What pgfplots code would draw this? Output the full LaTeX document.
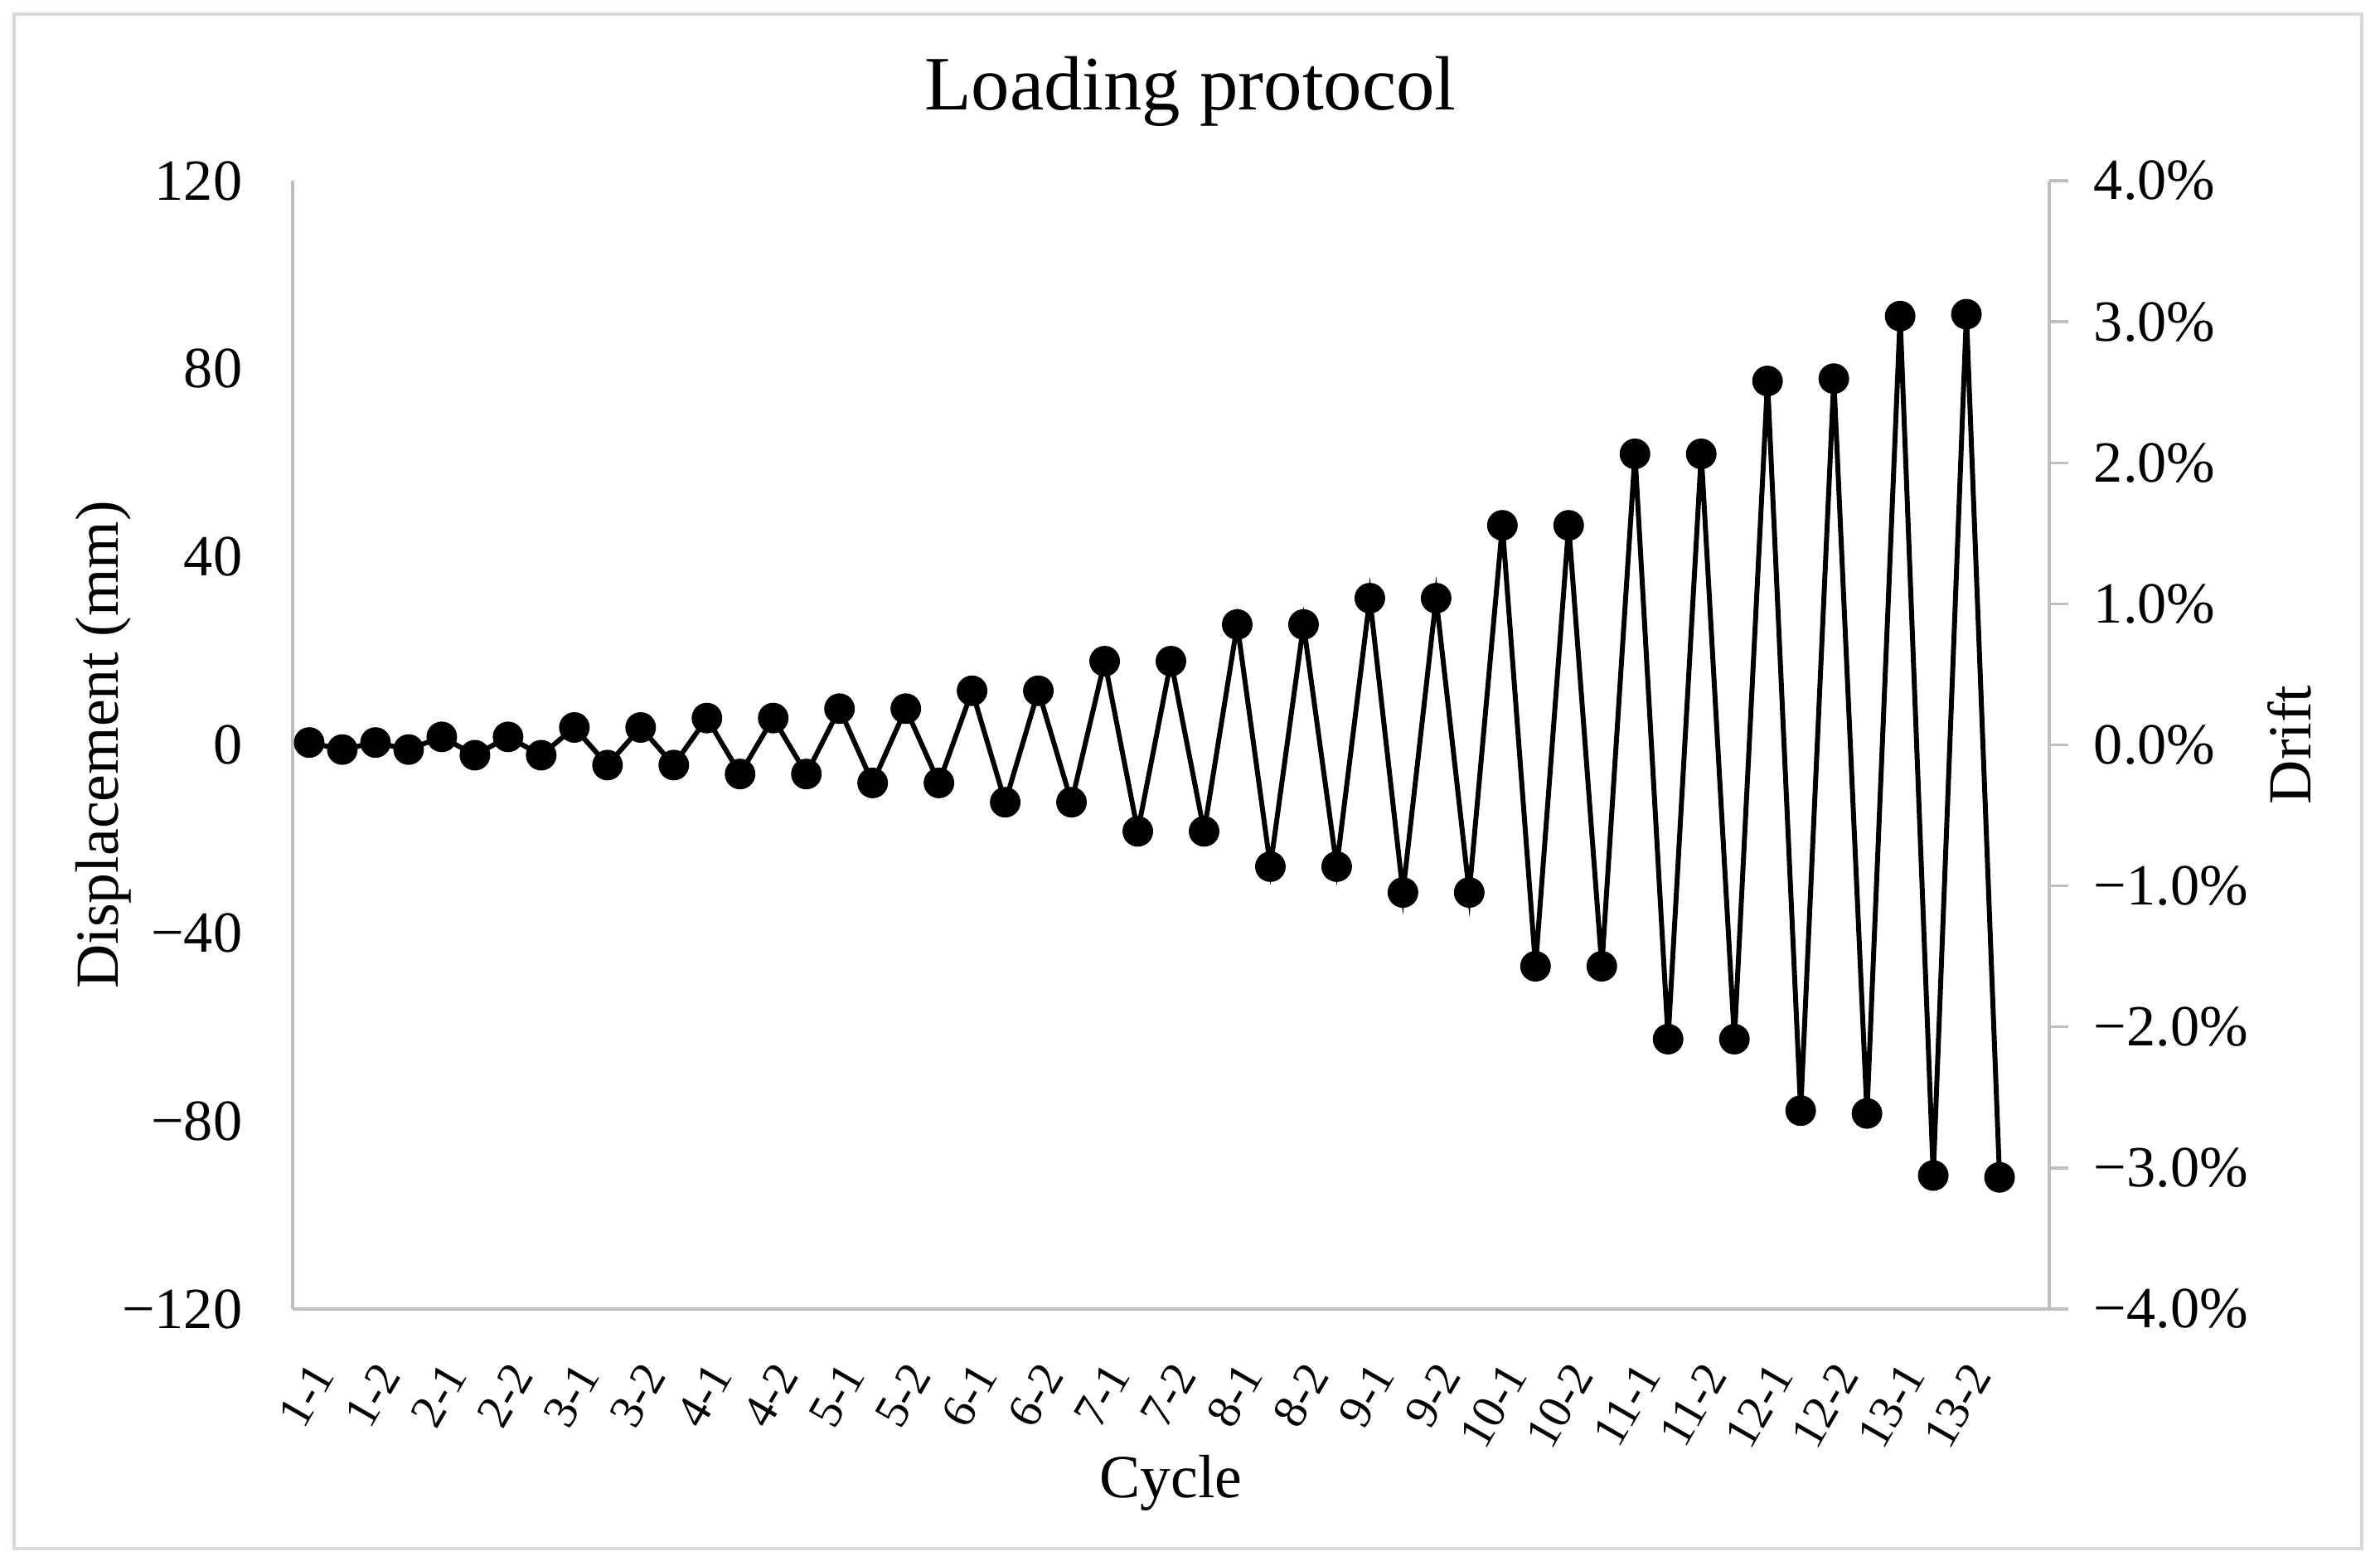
\documentclass[border=0pt]{standalone}
\usepackage{fontspec}
\setmainfont{Liberation Serif}
\usepackage{pgfplots}
\pgfplotsset{compat=1.18}
\definecolor{axgray}{HTML}{BFBFBF}
\definecolor{framegray}{HTML}{D9D9D9}

\begin{document}
\begin{tikzpicture}
\path[use as bounding box] (-1.765,-1.545) rectangle (12.59,7.895);
\draw[framegray, line width=0.02cm] (-1.68,-1.445) rectangle (12.48,7.81);

% left axis: displacement
\begin{axis}[
  at={(0,0)}, anchor=south west,
  scale only axis, width=10.595cm, height=6.805cm,
  xmin=0.5, xmax=53.5, ymin=-120, ymax=120,
  axis x line*=bottom, axis y line*=left,
  axis line style={draw=axgray, line width=0.47pt, -},
  major tick length=0pt,
  clip=false,
  xtick={1,3,...,51},
  xticklabels={1-1,1-2,2-1,2-2,3-1,3-2,4-1,4-2,5-1,5-2,6-1,6-2,7-1,7-2,8-1,8-2,9-1,9-2,10-1,10-2,11-1,11-2,12-1,12-2,13-1,13-2},
  xticklabel style={font=\fontsize{8.2}{10}\selectfont, xshift=4pt, yshift=-7pt, rotate=60, anchor=east},
  ytick={-120,-80,...,120},
  yticklabels={−120,−80,−40,0,40,80,120},
  yticklabel style={font=\fontsize{10}{12}\selectfont, xshift=-0.18cm},
  every axis title/.style={at={(axis description cs:0.511,1.0625)}, anchor=base, font=\fontsize{13.2}{16}\selectfont},
  title={Loading protocol},
  every axis x label/.style={at={(axis description cs:0.5,-0.1668)}, anchor=base, font=\fontsize{10.5}{12}\selectfont},
  xlabel={Cycle},
  every axis y label/.style={at={(axis description cs:-0.0991,0.5)}, anchor=base, rotate=90, font=\fontsize{10.5}{12}\selectfont},
  ylabel={Displacement (mm)},
]
\addplot[black, line width=0.85pt, mark=*, mark size=2.2pt, mark options={solid, fill=black}] coordinates {
  (1,0.5) (2,-1.0) (3,0.5) (4,-1.0)
  (5,1.7) (6,-2.2) (7,1.7) (8,-2.2)
  (9,3.7) (10,-4.3) (11,3.7) (12,-4.3)
  (13,5.7) (14,-6.2) (15,5.7) (16,-6.2)
  (17,7.7) (18,-8.1) (19,7.7) (20,-8.1)
  (21,11.5) (22,-12.2) (23,11.5) (24,-12.2)
  (25,17.8) (26,-18.4) (27,17.8) (28,-18.4)
  (29,25.6) (30,-25.9) (31,25.6) (32,-25.9)
  (33,31.2) (34,-31.4) (35,31.2) (36,-31.4)
  (37,46.7) (38,-47.1) (39,46.7) (40,-47.1)
  (41,61.9) (42,-62.6) (43,61.9) (44,-62.6)
  (45,77.4) (46,-77.8) (47,77.9) (48,-78.4)
  (49,91.2) (50,-91.6) (51,91.6) (52,-92.0)
};
\end{axis}

% right axis: drift
\begin{axis}[
  at={(0,0)}, anchor=south west,
  scale only axis, width=10.595cm, height=6.805cm,
  xmin=0.5, xmax=53.5, ymin=-4, ymax=4,
  axis y line*=right, axis x line=none,
  axis line style={draw=axgray, line width=0.47pt, -},
  ytick={-4,-3,...,4},
  yticklabels={−4.0\%,−3.0\%,−2.0\%,−1.0\%,0.0\%,1.0\%,2.0\%,3.0\%,4.0\%},
  tick align=outside, major tick length=0.115cm,
  major tick style={draw=axgray, line width=0.47pt},
  yticklabel style={font=\fontsize{10}{12}\selectfont, xshift=0.03cm},
  every axis y label/.style={at={(axis description cs:1.1487,0.5)}, anchor=base, rotate=90, font=\fontsize{10.5}{12}\selectfont},
  ylabel={Drift},
]
\end{axis}
\end{tikzpicture}
\end{document}
